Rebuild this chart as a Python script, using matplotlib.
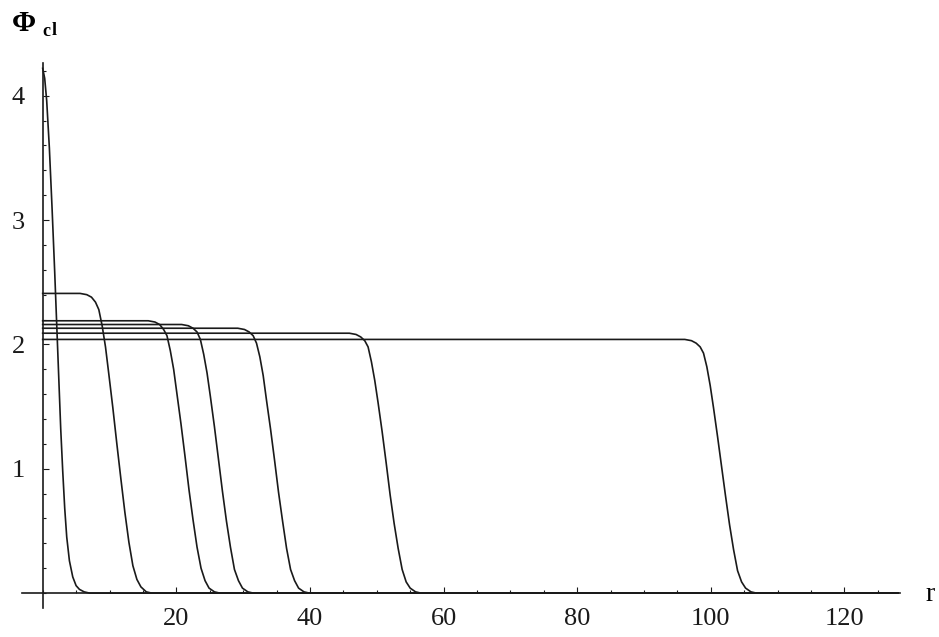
import matplotlib
matplotlib.use("Agg")
import matplotlib.pyplot as plt
from matplotlib.ticker import MultipleLocator

# values, r vs Phi_cl
r_peak   = [0, 0.3, 0.6, 1.0, 1.4, 1.8, 2.1, 2.4, 2.7, 3.0, 3.3, 3.6, 4.0, 4.5, 5.0, 5.5, 6.2, 7.0, 128]
phi_peak = [4.22, 4.14, 3.96, 3.58, 3.10, 2.58, 2.16, 1.74, 1.32, 0.98, 0.68, 0.45, 0.26, 0.13, 0.06, 0.03, 0.01, 0.0, 0.0]

r_a   = [0, 5.6, 6.6, 7.3, 7.9, 8.4, 8.9, 9.4, 9.9, 10.5, 11.1, 11.7, 12.3, 12.9, 13.5, 14.1, 14.7, 15.5, 16.3, 128]
phi_a = [2.41, 2.41, 2.40, 2.38, 2.34, 2.28, 2.15, 1.98, 1.76, 1.49, 1.20, 0.92, 0.65, 0.41, 0.22, 0.11, 0.05, 0.01, 0.0, 0.0]

r_b   = [0, 15.8, 16.8, 17.5, 18.1, 18.6, 19.1, 19.6, 20.1, 20.7, 21.3, 21.9, 22.5, 23.1, 23.7, 24.3, 24.9, 25.7, 26.5, 128]
phi_b = [2.19, 2.19, 2.18, 2.16, 2.12, 2.07, 1.95, 1.80, 1.60, 1.36, 1.10, 0.83, 0.59, 0.37, 0.20, 0.10, 0.04, 0.01, 0.0, 0.0]

r_c   = [0, 20.8, 21.8, 22.5, 23.1, 23.6, 24.1, 24.6, 25.1, 25.7, 26.3, 26.9, 27.5, 28.1, 28.7, 29.3, 29.9, 30.7, 31.5, 128]
phi_c = [2.16, 2.16, 2.15, 2.13, 2.10, 2.04, 1.92, 1.77, 1.58, 1.34, 1.08, 0.82, 0.58, 0.37, 0.19, 0.10, 0.04, 0.01, 0.0, 0.0]

r_d   = [0, 29.2, 30.2, 30.9, 31.5, 32.0, 32.5, 33.0, 33.5, 34.1, 34.7, 35.3, 35.9, 36.5, 37.1, 37.7, 38.3, 39.1, 39.9, 128]
phi_d = [2.13, 2.13, 2.12, 2.10, 2.07, 2.01, 1.90, 1.75, 1.55, 1.32, 1.07, 0.81, 0.58, 0.36, 0.19, 0.10, 0.04, 0.01, 0.0, 0.0]

r_e   = [0, 45.9, 46.9, 47.6, 48.2, 48.7, 49.2, 49.7, 50.2, 50.8, 51.4, 52.0, 52.6, 53.2, 53.8, 54.4, 55.0, 55.8, 56.6, 128]
phi_e = [2.09, 2.09, 2.08, 2.06, 2.03, 1.98, 1.86, 1.71, 1.53, 1.30, 1.05, 0.79, 0.56, 0.36, 0.19, 0.09, 0.04, 0.01, 0.0, 0.0]

r_f   = [0, 96.1, 97.1, 97.8, 98.4, 98.9, 99.4, 99.9, 100.4, 101.0, 101.6, 102.2, 102.8, 103.4, 104.0, 104.6, 105.2, 106.0, 106.8, 128]
phi_f = [2.04, 2.04, 2.03, 2.01, 1.98, 1.93, 1.82, 1.67, 1.49, 1.26, 1.02, 0.78, 0.55, 0.35, 0.18, 0.09, 0.04, 0.01, 0.0, 0.0]

curves = [(r_peak, phi_peak), (r_a, phi_a), (r_b, phi_b), (r_c, phi_c),
          (r_d, phi_d), (r_e, phi_e), (r_f, phi_f)]

x_ticks = [20, 40, 60, 80, 100, 120]
y_ticks = [1, 2, 3, 4]

plt.rcParams['font.family'] = ['Liberation Serif', 'DejaVu Serif']

fig = plt.figure(figsize=(9.39, 6.37), dpi=100)
ax = fig.add_axes([0.0234, 0.0455, 0.935, 0.855])

for r, phi in curves:
    ax.plot(r, phi, color="#1a1a1a", lw=1.2, solid_joinstyle="round")

ax.set_xlim(-3.1, 128.3)
ax.set_ylim(-0.12, 4.26)

# mathematica style axes through the origin
for side in ["top", "right"]:
    ax.spines[side].set_visible(False)
ax.spines["left"].set_position(("data", 0))
ax.spines["bottom"].set_position(("data", 0))
for side in ["left", "bottom"]:
    ax.spines[side].set_linewidth(1.2)
    ax.spines[side].set_color("#1a1a1a")

ax.set_xticks(x_ticks)
ax.set_yticks(y_ticks)
ax.xaxis.set_minor_locator(MultipleLocator(5))
ax.yaxis.set_minor_locator(MultipleLocator(0.2))
ax.tick_params(which="both", direction="in", color="#1a1a1a", width=0.8)
ax.tick_params(which="major", length=4)
ax.tick_params(which="minor", length=2.2)
ax.tick_params(axis="x", which="major", pad=11, labelsize=19, labelcolor="#1a1a1a")
ax.tick_params(axis="y", which="major", pad=13, labelsize=19, labelcolor="#1a1a1a")

fig.text(0.013, 0.963, "\u03a6", fontsize=21, fontweight="bold", va="center", ha="left")
fig.text(0.045, 0.950, "c", fontsize=13, fontweight="bold", va="center", ha="left")
fig.text(0.0555, 0.952, "l", fontsize=13, fontweight="bold", va="center", ha="left")
fig.text(0.990, 0.066, "r", fontsize=20, va="center", ha="center")

fig.savefig("out.png", dpi=100)
